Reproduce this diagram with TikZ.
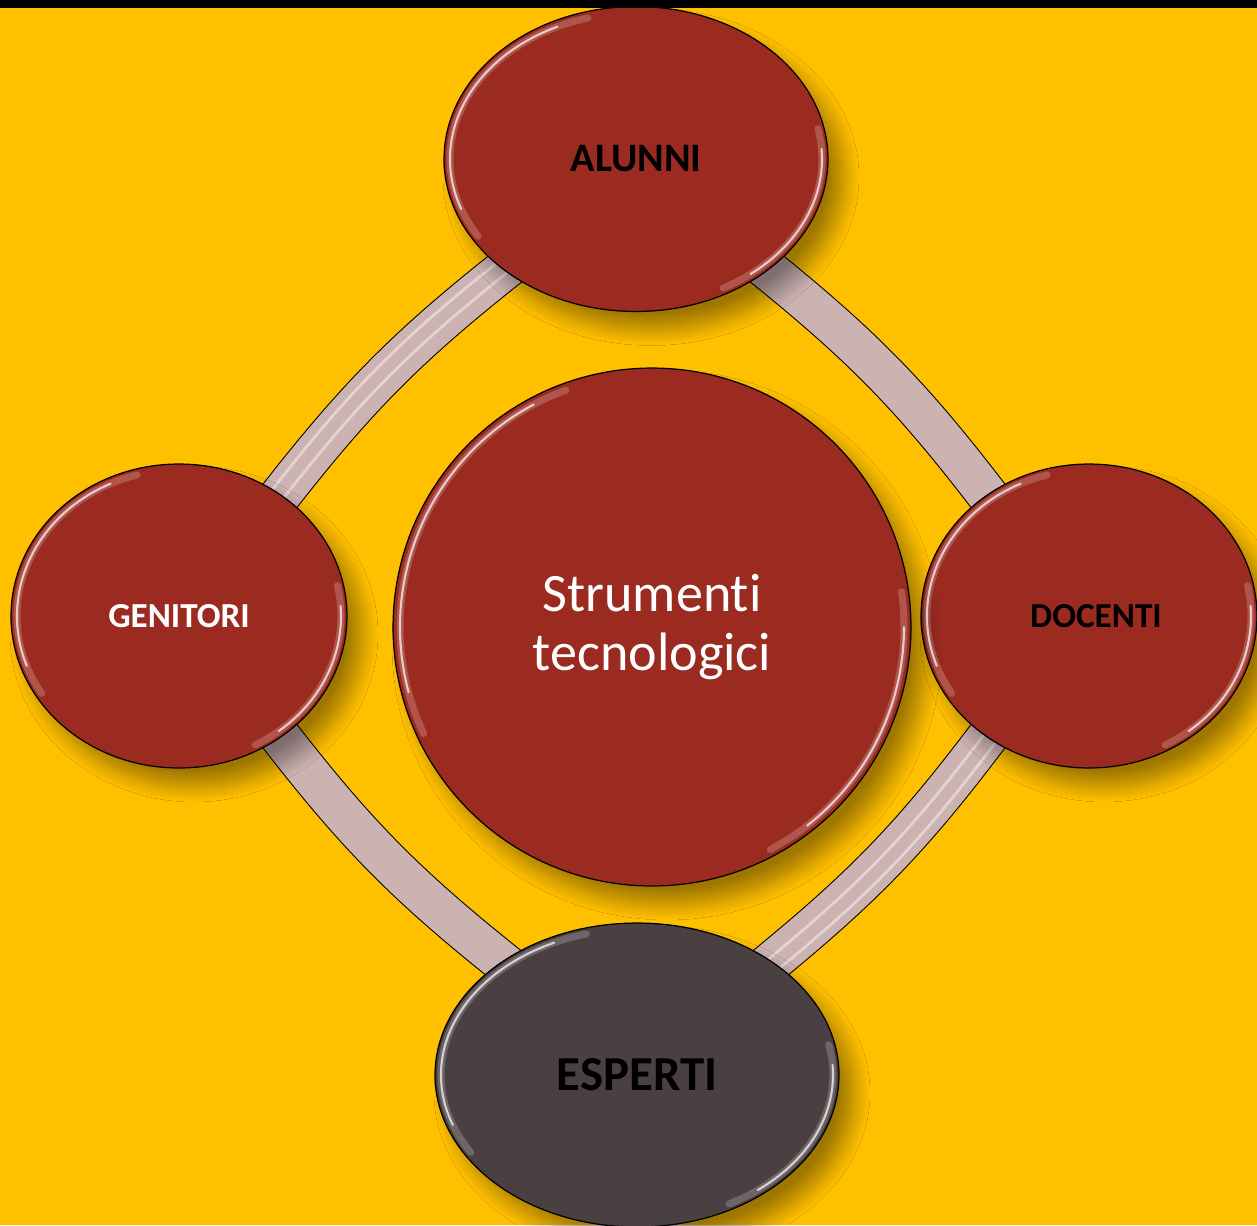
\documentclass[tikz,border=0pt]{standalone}
\usepackage{fontspec}
\setmainfont{Carlito}[Ligatures=NoCommon]
\usetikzlibrary{shapes.geometric,shadows.blur}

\definecolor{slideyellow}{HTML}{FFC000}
\definecolor{bubblered}{HTML}{9B2B20}
\definecolor{bubblegrey}{HTML}{4A3F41}
\definecolor{ringpink}{HTML}{CDB2B2}

\pgfdeclarelayer{background}
\pgfsetlayers{background,main}

\tikzset{
  bubble/.style={ellipse, draw=black, line width=0.7pt, fill=bubblered, inner sep=0pt,
    blur shadow={shadow xshift=0.3cm, shadow yshift=-0.36cm, shadow blur radius=0.32cm,
      shadow blur steps=14, shadow opacity=38}},
  ring/.style={line width=0.6pt, draw=black, double=ringpink, double distance=0.8cm,
    shorten <=-0.3cm, shorten >=-0.3cm},
  stripe/.style={white, opacity=0.45, line width=1.6pt, shorten <=-0.3cm, shorten >=-0.3cm},
  rim/.style={white, opacity=0.7, line width=1.2pt, line cap=round},
  rimglow/.style={white, opacity=0.2, line width=4pt, line cap=round}
}

\begin{document}
\begin{tikzpicture}[x=0.02cm, y=0.02cm]
\useasboundingbox (0,0) rectangle (1257,-1225);

% the five bubbles
\node[bubble, minimum width=7.68cm, minimum height=6.1cm, font=\fontsize{23}{26}\selectfont\bfseries] (alunni) at (636,-159) {ALUNNI};
\node[bubble, minimum width=6.72cm, minimum height=6.08cm, text=white, font=\fontsize{20}{24}\selectfont\bfseries] (genitori) at (179,-616) {GENITORI};
\node[bubble, minimum width=6.72cm, minimum height=6.08cm, font=\fontsize{20}{24}\selectfont\bfseries] (docenti) at (1089,-616) {\hspace*{0.28cm}DOCENTI};
\node[bubble, fill=bubblegrey, minimum width=8.08cm, minimum height=6.08cm, font=\fontsize{27.8}{32}\selectfont\bfseries] (esperti) at (637,-1075) {ESPERTI};
\node[bubble, circle, minimum size=10.36cm, text=white, align=center, font=\fontsize{30.8}{34}\selectfont] (hub) at (652,-627) {Strumenti\\tecnologici};

% glossy rims
\foreach \n/\rx/\ry in {alunni/186/146, genitori/162/146, docenti/162/146, esperti/196/146}{
  \draw[rimglow] ([shift={(105:{\rx} and {\ry})}]\n.center) arc[start angle=105, end angle=212, x radius=\rx, y radius=\ry];
  \draw[rim] ([shift={(115:{\rx} and {\ry})}]\n.center) arc[start angle=115, end angle=200, x radius=\rx, y radius=\ry];
  \draw[rimglow] ([shift={(12:{\rx} and {\ry})}]\n.center) arc[start angle=12, end angle=-62, x radius=\rx, y radius=\ry];
  \draw[rim] ([shift={(4:{\rx} and {\ry})}]\n.center) arc[start angle=4, end angle=-52, x radius=\rx, y radius=\ry];
}
\draw[rimglow] ([shift={(110:252)}]hub.center) arc[start angle=110, end angle=205, radius=252];
\draw[rim] ([shift={(118:252)}]hub.center) arc[start angle=118, end angle=195, radius=252];
\draw[rimglow] ([shift={(8:252)}]hub.center) arc[start angle=8, end angle=-62, radius=252];
\draw[rim] ([shift={(0:252)}]hub.center) arc[start angle=0, end angle=-52, radius=252];

\begin{pgfonlayer}{background}
\fill[slideyellow] (0,0) rectangle (1257,-1225);
% ring between the bubbles
\foreach \a/\b in {alunni.320/docenti.130, docenti.230/esperti.40, esperti.140/genitori.310, genitori.50/alunni.220}
  \draw[ring] (\a) to[bend left=7] (\b);
\draw[stripe, transform canvas={shift={(-7,7)}}] (genitori.50) to[bend left=7] (alunni.220);
\draw[stripe, transform canvas={shift={(3,-3)}}] (genitori.50) to[bend left=7] (alunni.220);
\draw[stripe, transform canvas={shift={(7,-7)}}] (docenti.230) to[bend left=7] (esperti.40);
\draw[stripe, transform canvas={shift={(-3,3)}}] (docenti.230) to[bend left=7] (esperti.40);
\end{pgfonlayer}

\fill[black] (0,0) rectangle (1257,-8);
\end{tikzpicture}
\end{document}
